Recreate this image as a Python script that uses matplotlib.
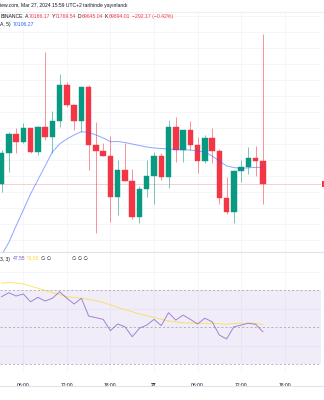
import numpy as np
import pandas as pd
import matplotlib
matplotlib.use('Agg')
import matplotlib.pyplot as plt
from matplotlib.lines import Line2D
from matplotlib.patches import Rectangle

plt.rcParams['font.family'] = ['Liberation Sans', 'DejaVu Sans']

# hourly candles, BTC/USDT (Binance), 26-27 Mar 2024
times = pd.date_range('2024-03-26 03:00', periods=37, freq='h')
opens = [69894, 70282, 70527, 70419, 70594, 70294, 70610, 70485, 70689, 71136,
         70886, 70689, 71107, 70385, 70314, 70248, 69732, 70073, 69935, 69482,
         69832, 70002, 70248, 69989, 70614, 70323, 70573, 70385, 70189, 70469,
         70310, 69727, 69552, 70060, 70114, 70223, 70186.17]
highs = [70323, 70552, 70594, 70657, 70602, 70623, 71552, 70814, 71273, 71177,
         70898, 71107, 71136, 70677, 70407, 70498, 70198, 70407, 70082, 69873,
         70198, 70302, 70289, 70698, 70732, 70573, 70689, 70482, 70511, 70594,
         70332, 69989, 70073, 70198, 70364, 70373, 71769.54]
lows = [69802, 70052, 70289, 70407, 70282, 70261, 70448, 70282, 70614, 70864,
        70573, 70552, 70073, 69289, 70248, 69419, 69510, 69935, 69457, 69414,
        69739, 69648, 69948, 69844, 70177, 70177, 70323, 70039, 70157, 70164,
        69648, 69519, 69414, 69927, 70023, 69998, 69645.04]
closes = [70282, 70527, 70419, 70594, 70294, 70614, 70485, 70689, 71136, 70886,
          70689, 71107, 70385, 70314, 70248, 69732, 70073, 69935, 69482, 69832,
          70002, 70248, 69989, 70614, 70323, 70573, 70385, 70189, 70469, 70310,
          69727, 69552, 70060, 70114, 70223, 70189, 69894.01]
ma_line = [69010, 69167, 69373, 69573, 69773, 69948, 70123, 70298, 70398, 70461,
           70511, 70552, 70542, 70511, 70473, 70427, 70429, 70417, 70398, 70379,
           70361, 70348, 70342, 70336, 70329, 70326, 70323, 70311, 70298, 70248,
           70186, 70123, 70104, 70094, 70100, 70106, 70106.27]
rsi = [66.5, 68.7, 66.9, 68.0, 63.8, 66.2, 64.2, 65.7, 69.2, 65.7,
       62.6, 65.7, 56.1, 55.2, 54.3, 48.2, 51.8, 50.3, 44.9, 49.5,
       51.2, 54.3, 50.9, 57.9, 53.9, 56.6, 54.3, 51.8, 54.9, 53.0,
       45.8, 43.7, 50.3, 51.2, 52.2, 51.6, 47.55]
rsi_ma = [73.8, 74.3, 73.9, 73.4, 72.3, 71.1, 69.9, 68.8, 67.6, 66.5,
          66.1, 65.7, 65.1, 64.4, 63.5, 62.1, 60.7, 59.6, 58.4, 57.2,
          56.3, 55.3, 54.3, 53.4, 52.9, 52.4, 52.3, 52.2, 52.2, 52.2,
          51.9, 51.6, 52.1, 52.2, 52.2, 52.1, 51.53]

UP = '#089981'
DOWN = '#F23645'
W, H = 324, 400

x = np.array((times - times[0]) / pd.Timedelta(hours=1))
o = np.array(opens); c = np.array(closes)
hi = np.array(highs); lo = np.array(lows)

fig = plt.figure(figsize=(W / 100, H / 100), dpi=100)
fig.patch.set_facecolor('white')

def fx(px):
    return px / W

def fy(py):
    return 1 - py / H

ax = fig.add_axes([0, fy(252), fx(321), fy(12) - fy(252)])
ax2 = fig.add_axes([0, fy(373), fx(321), fy(252) - fy(373)], sharex=ax)

xlim = (-0.21, 44.0)
tick_x = [xi for xi, t in zip(range(0, 45), pd.date_range(times[0], periods=45, freq='h')) if t.hour % 6 == 0]
tick_lbl = []
for xi in tick_x:
    t = times[0] + pd.Timedelta(hours=xi)
    tick_lbl.append(str(t.day) if t.hour == 0 else t.strftime('%H:%M'))

# main pane
cols = [UP if cc >= oo else DOWN for oo, cc in zip(o, c)]
ax.vlines(x, lo, hi, colors=cols, linewidth=0.7, alpha=0.55, zorder=2)
ax.bar(x, np.abs(c - o), bottom=np.minimum(o, c), width=0.76, color=cols,
       edgecolor=cols, linewidth=0.3, zorder=3)
ax.plot(x, ma_line, color='#2962FF', linewidth=0.7, alpha=0.55, zorder=4)
ax.axhline(closes[-1], color=DOWN, linewidth=0.7, alpha=0.25, zorder=1)
ax.set_ylim(69048, 72048)
ax.set_yticks(np.arange(69200, 72001, 200))
ax.set_xlim(*xlim)
ax.set_xticks(tick_x)
ax.grid(True, color='#f3f5f9', linewidth=0.6)
ax.set_axisbelow(True)
ax.tick_params(left=False, bottom=False, labelleft=False, labelbottom=False)
for s in ax.spines.values():
    s.set_visible(False)

# RSI pane
ax2.axhspan(30, 70, color='#7E57C2', alpha=0.1, linewidth=0)
for lvl in (70, 50, 30):
    ax2.axhline(lvl, color='#9598a1', linewidth=0.6, linestyle=(0, (2.5, 2.5)), alpha=0.8)
ax2.plot(x, rsi_ma, color='#FDD835', linewidth=0.7, alpha=0.7, zorder=3)
ax2.plot(x, rsi, color='#7E57C2', linewidth=0.7, alpha=0.7, zorder=4)
ax2.set_ylim(25.3, 90.7)
ax2.set_yticks([40, 60, 80])
ax2.grid(True, color='#f3f5f9', linewidth=0.6)
ax2.set_axisbelow(True)
ax2.set_xticks(tick_x)
ax2.set_xticklabels(tick_lbl)
ax2.tick_params(left=False, bottom=False, labelleft=False, labelsize=3.6,
                labelcolor='#131722', pad=3.8)
for lab in ax2.get_xticklabels():
    if lab.get_text() == '27':
        lab.set_fontweight('bold')
for s in ax2.spines.values():
    s.set_visible(False)
ax2.set_xlim(*xlim)

# separators
for py, col in ((11.5, '#eef0f4'), (252.3, '#e0e3eb'), (385.7, '#e0e3eb')):
    fig.add_artist(Line2D([0, 1], [fy(py), fy(py)], transform=fig.transFigure,
                          color=col, linewidth=0.8))

# texts
renderer = fig.canvas.get_renderer()

def put_row(x_px, y_px, pieces, size=3.7):
    xx = x_px
    for txt, color, gap in pieces:
        t = fig.text(fx(xx), fy(y_px), txt, color=color, fontsize=size,
                     ha='left', va='center')
        xx += t.get_window_extent(renderer).width + gap

put_row(0.5, 6, [('iew.com, Mar 27, 2024 15:59 UTC+2 tarihinde yayınlandı', '#131722', 0)], size=3.6)
put_row(1, 16.5, [('BINANCE', '#131722', 1.5), ('A', '#131722', 0.2), ('70186.17', DOWN, 1.4),
                  ('Y', '#131722', 0.2), ('71769.54', DOWN, 1.4),
                  ('D', '#131722', 0.2), ('69645.04', DOWN, 1.4),
                  ('K', '#131722', 0.2), ('69894.01', DOWN, 1.8),
                  ('−292.17 (−0.42%)', DOWN, 0)])
put_row(0, 24.5, [('A, 5)', '#131722', 2.5), ('70106.27', '#2962FF', 0)])
put_row(0, 259, [('3, 3)', '#131722', 2.5), ('47.55', '#7E57C2', 1.8), ('51.53', '#FDD835', 1.8),
                 ('∅ ∅', '#131722', 0)], size=3.6)
put_row(72, 259, [('∅ ∅ ∅', '#131722', 0)], size=3.6)

# last price tag on the (cut-off) price scale
fig.add_artist(Rectangle((fx(321.7), fy(187)), fx(3), fy(181) - fy(187),
                         transform=fig.transFigure, facecolor=DOWN, edgecolor='none'))

fig.savefig('out.png', dpi=100, facecolor='white')
